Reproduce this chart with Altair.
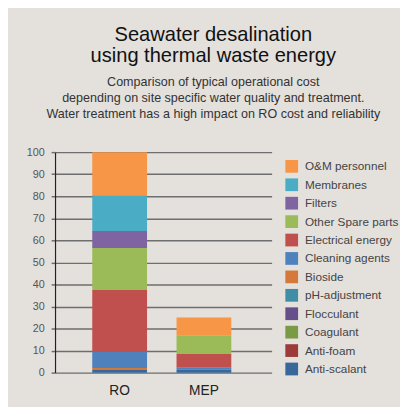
import altair as alt
import pandas as pd

categories = ["O&M personnel", "Membranes", "Filters", "Other Spare parts",
              "Electrical energy", "Cleaning agents", "Bioside", "pH-adjustment",
              "Flocculant", "Coagulant", "Anti-foam", "Anti-scalant"]
colors = ["#f79646", "#4bacc6", "#8064a2", "#9bbb59", "#c0504d", "#4f81bd",
          "#d4793a", "#3f8ea5", "#65508a", "#7a9a45", "#9c3b3a", "#386799"]
plants = ["RO", "MEP"]
ro_values = [19.5, 16.3, 7.7, 19.0, 28.0, 7.4, 0.4, 0.1, 0.1, 0.1, 0.1, 1.3]
mep_values = [8.0, 0, 0, 8.5, 6.3, 0.8, 0, 0, 0, 0, 0, 1.4]

rows = []
n = len(categories)
for plant, vals in zip(plants, [ro_values, mep_values]):
    for i, (c, v) in enumerate(zip(categories, vals)):
        if v > 0:
            rows.append({"plant": plant, "item": c, "cost": v, "rank": n - i})
df = pd.DataFrame(rows)

bars = alt.Chart(df).mark_bar().encode(
    x=alt.X("plant:N", sort=plants, title=None,
            scale=alt.Scale(paddingInner=0.35, paddingOuter=0.46, align=0.48),
            axis=alt.Axis(labelAngle=0, domain=False, ticks=False, labelFontSize=14,
                          labelColor="#222222", labelPadding=11,
                          labelFont="Liberation Sans")),
    y=alt.Y("cost:Q", stack="zero", title=None,
            scale=alt.Scale(domain=[0, 100], nice=False),
            axis=alt.Axis(values=list(range(0, 101, 10)), grid=True,
                          gridColor="#6e6e6e", gridWidth=1.5,
                          tickColor="#6e6e6e", tickWidth=1.5, tickSize=4,
                          domainColor="#222222", domainWidth=1.2,
                          labelFontSize=11, labelColor="#555555", labelPadding=7,
                          labelFont="Liberation Sans")),
    color=alt.Color("item:N", title=None,
                    scale=alt.Scale(domain=categories, range=colors),
                    legend=alt.Legend(orient="none", legendX=235, legendY=8,
                                      symbolType="square", symbolSize=169,
                                      symbolStrokeWidth=0, rowPadding=5.8,
                                      labelFontSize=12, labelColor="#444444",
                                      labelOffset=7, labelFont="Liberation Sans",
                                      padding=0)),
    order=alt.Order("rank:Q", sort="ascending"),
)

chart = bars.properties(
    width=221, height=225,
    autosize=alt.AutoSizeParams(type="none"),
    padding={"left": 48, "top": 143, "right": 131, "bottom": 31},
    background="#e4e0dc",
    title=alt.Title(
        text=["Seawater desalination", "using thermal waste energy"],
        subtitle=["Comparison of typical operational cost",
                  "depending on site specific water quality and treatment.",
                  "Water treatment has a high impact on RO cost and reliability"],
        anchor="middle", dx=51, fontSize=20.5, fontWeight="normal",
        font="Liberation Sans", color="#111111", lineHeight=21,
        subtitleFontSize=12.8, subtitleFont="Liberation Sans",
        subtitleColor="#333333", subtitleLineHeight=16.5, subtitlePadding=10,
        offset=26,
    ),
).configure_view(stroke=None)

chart.save("out.html", embed_options={"renderer": "svg", "actions": False})
